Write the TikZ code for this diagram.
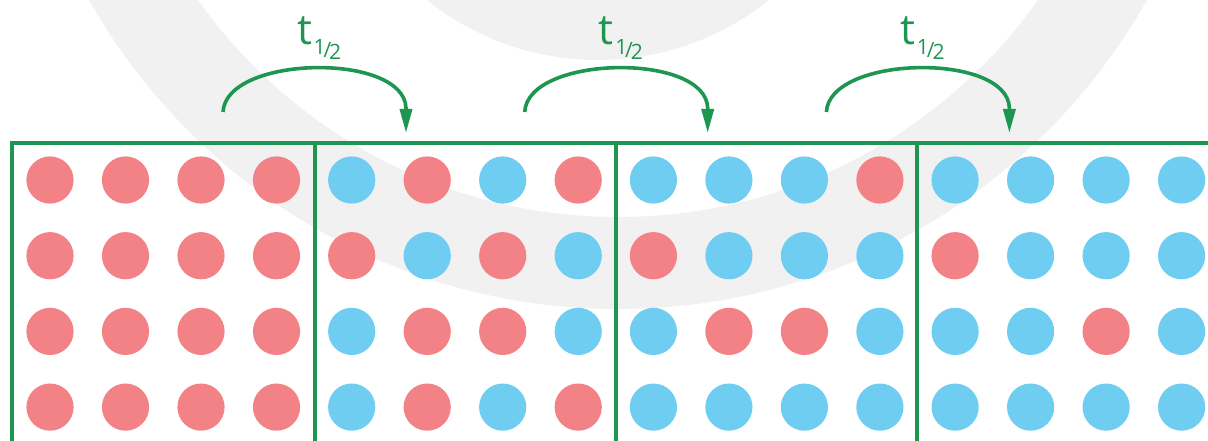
\documentclass[tikz,border=0pt]{standalone}
\usepackage{fontspec}
\setmainfont{Open Sans}
\usetikzlibrary{arrows.meta}
\definecolor{gline}{RGB}{30,150,82}
\definecolor{cP}{RGB}{243,130,135}
\definecolor{cB}{RGB}{110,205,241}
\definecolor{wmgray}{RGB}{241,241,241}
\begin{document}
\begin{tikzpicture}[x=0.025cm,y=-0.025cm,
  dot/.style={circle,inner sep=0pt,minimum size=1.18cm},
  frame/.style={draw=gline,line width=0.095cm},
  halfarrow/.style={draw=gline,line width=0.09cm,-{Triangle[length=0.6cm,width=0.3cm]}},
  halflabel/.style={text=gline,inner sep=0pt,font=\fontsize{30}{30}\selectfont},
  wm/.style={fill=wmgray}]
\useasboundingbox (0,0) rectangle (1208,440);
\begin{scope}
\clip (0,0) rectangle (1208,440);
% watermark (background)
\fill[wm,even odd rule] (618,-298) circle (607) (618,-298) circle (515);
\fill[wm] (598,-214) circle (274);
% frames
\coordinate (tl) at (12,143);
\coordinate (br) at (1230,470);
\draw[frame] (tl) rectangle (br);
\foreach \k/\x in {1/315,2/616,3/917}{
  \coordinate (v\k t) at (\x,143);
  \coordinate (v\k b) at (\x,470);
  \draw[frame] (v\k t) -- (v\k b);
}
% dots
\foreach \b/\pat in {0/{P,P,P,P,P,P,P,P,P,P,P,P,P,P,P,P},
                     1/{B,P,B,P,P,B,P,B,B,P,P,B,B,P,B,P},
                     2/{B,B,B,P,P,B,B,B,B,P,P,B,B,B,B,B},
                     3/{B,B,B,B,P,B,B,B,B,B,P,B,B,B,B,B}}{
  \foreach \c [count=\i from 0] in \pat {
    \pgfmathtruncatemacro{\col}{mod(\i,4)}
    \pgfmathtruncatemacro{\row}{\i/4}
    \node[dot,fill=c\c] (d\b-\i) at ({50+301.7*\b+75.5*\col},{180+75.7*\row}) {};
  }
}
% arrows and labels
\foreach \k in {0,1,2}{
  \coordinate (s\k) at ({223+301.7*\k},112);
  \coordinate (m\k) at ({406+301.7*\k},108);
  \coordinate (e\k) at ({406+301.7*\k},133);
  \draw[halfarrow] (s\k) .. controls +(3,-57) and +(-2,-56) .. (m\k) -- (e\k);
  \node[halflabel,anchor=base west] (l\k) at ({297+301.7*\k},45)
    {t\kern1pt\raisebox{-9pt}{\fontsize{15}{15}\selectfont\raisebox{2pt}{1}\kern-1.5pt/\kern-1.5pt\raisebox{-1pt}{2}}};
}
\end{scope}
\end{tikzpicture}
\end{document}
